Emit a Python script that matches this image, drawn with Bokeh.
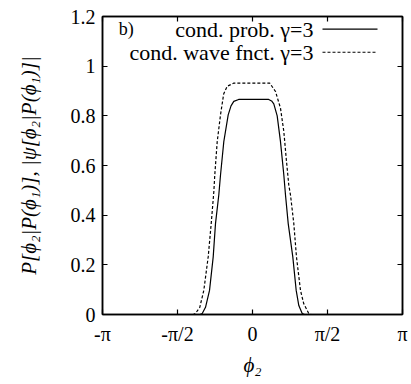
import math
from bokeh.plotting import figure
from bokeh.models import Range1d, FixedTicker, LinearAxis, Label, Arrow
from bokeh.embed import file_html
from bokeh.resources import INLINE

PI = math.pi

# conditional probability, gamma = 3 (solid)
phi_prob = [-PI, -1.10, -1.053, -0.984, -0.900, -0.823, -0.775, -0.706, -0.670,
            -0.601, -0.509, -0.450, -0.392, -0.290, 0.0, 0.340, 0.400, 0.446,
            0.517, 0.586, 0.656, 0.691, 0.748, 0.844, 0.915, 0.970, 1.041, 1.09, PI]
p_prob = [0.0, 0.0, 0.004, 0.029, 0.097, 0.232, 0.366, 0.481, 0.562,
          0.696, 0.804, 0.840, 0.858, 0.866, 0.866, 0.866, 0.860, 0.848,
          0.800, 0.696, 0.562, 0.481, 0.366, 0.232, 0.097, 0.036, 0.004, 0.0, 0.0]

# conditional wave function, gamma = 3 (dashed)
phi_wave = [-PI, -1.24, -1.194, -1.104, -1.020, -0.928, -0.865, -0.810, -0.790,
            -0.739, -0.670, -0.604, -0.530, -0.390, 0.0, 0.360, 0.446, 0.482,
            0.586, 0.656, 0.706, 0.760, 0.796, 0.865, 0.921, 1.005, 1.074, 1.179, 1.23, PI]
p_wave = [0.0, 0.0, 0.004, 0.029, 0.097, 0.232, 0.366, 0.494, 0.562,
          0.696, 0.804, 0.888, 0.919, 0.932, 0.932, 0.932, 0.908, 0.898,
          0.831, 0.737, 0.629, 0.521, 0.481, 0.366, 0.232, 0.097, 0.043, 0.004, 0.0, 0.0]

x_ticks = [-PI, -PI / 2, 0.0, PI / 2, PI]
x_tick_labels = ["-π", "-π/2", "0", "π/2", "π"]
y_ticks = [0.0, 0.2, 0.4, 0.6, 0.8, 1.0, 1.2]
y_tick_labels = ["0", "0.2", "0.4", "0.6", "0.8", "1", "1.2"]

FONT = "Liberation Serif"

p = figure(width=411, height=384, x_range=Range1d(-PI, PI), y_range=Range1d(0, 1.2),
           output_backend="svg", toolbar_location=None,
           min_border_left=102, min_border_right=9, min_border_top=16, min_border_bottom=70)
p.xgrid.visible = False
p.ygrid.visible = False
p.outline_line_color = "black"
p.outline_line_width = 1.5
p.background_fill_color = "white"
p.border_fill_color = "white"

p.line(phi_prob, p_prob, line_color="black", line_width=1.2)
p.line(phi_wave, p_wave, line_color="black", line_width=1.2, line_dash="3 2")

def style_axis(ax, show_labels):
    ax.axis_line_color = "black"
    ax.axis_line_width = 1.5
    ax.major_tick_in = 5
    ax.major_tick_out = 0
    ax.minor_tick_in = 0
    ax.minor_tick_out = 0
    ax.major_tick_line_width = 1.2
    ax.major_tick_line_color = "black"
    if show_labels:
        ax.major_label_text_font = FONT
        ax.major_label_text_font_size = "20px"
        ax.major_label_text_color = "black"
    else:
        ax.major_label_text_font_size = "0px"
        ax.major_label_text_alpha = 0

xax = p.xaxis[0]
xax.ticker = FixedTicker(ticks=x_ticks)
xax.major_label_overrides = dict(zip(x_ticks, x_tick_labels))
style_axis(xax, True)
xax.major_label_standoff = 8
xax.axis_label = "ϕ₂"
xax.axis_label_text_font = FONT
xax.axis_label_text_font_style = "italic"
xax.axis_label_text_font_size = "21px"
xax.axis_label_text_color = "black"
xax.axis_label_standoff = 5

yax = p.yaxis[0]
yax.ticker = FixedTicker(ticks=y_ticks)
yax.major_label_overrides = dict(zip(y_ticks, y_tick_labels))
style_axis(yax, True)
yax.major_label_standoff = 7
yax.axis_label = "P[ϕ₂|P(ϕ₁)], |ψ[ϕ₂|P(ϕ₁)]|"
yax.axis_label_text_font = FONT
yax.axis_label_text_font_style = "italic"
yax.axis_label_text_font_size = "21px"
yax.axis_label_text_color = "black"
yax.axis_label_standoff = 27

top = LinearAxis(ticker=FixedTicker(ticks=x_ticks))
style_axis(top, False)
p.add_layout(top, "above")
right = LinearAxis(ticker=FixedTicker(ticks=y_ticks))
style_axis(right, False)
p.add_layout(right, "right")

# legend (gnuplot style: right-aligned text, sample to the right)
row1, row2 = 1.149, 1.056
txt_x = 1.277
for y, t in [(row1, "cond. prob. γ=3"), (row2, "cond. wave fnct. γ=3")]:
    p.add_layout(Label(x=txt_x, y=y, text=t, text_align="right", text_baseline="middle",
                       text_font=FONT, text_font_size="22px", text_color="black"))
p.add_layout(Label(x=-2.80, y=row1, text="b)", text_align="left", text_baseline="middle",
                   text_font=FONT, text_font_size="18px", text_color="black"))
p.add_layout(Arrow(end=None, x_start=1.466, y_start=row1, x_end=2.618, y_end=row1,
                   line_color="black", line_width=1.2))
p.add_layout(Arrow(end=None, x_start=1.466, y_start=row2, x_end=2.618, y_end=row2,
                   line_color="black", line_width=1.2, line_dash="3 2"))

open("out.html", "w").write(file_html(p, INLINE))
